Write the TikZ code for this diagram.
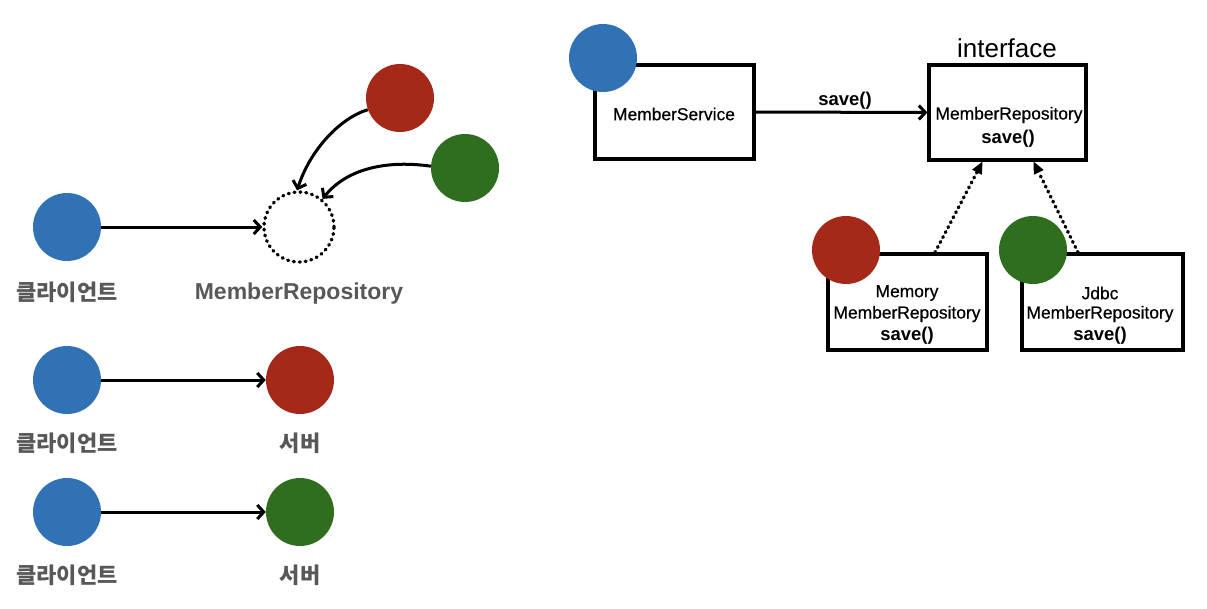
\documentclass[tikz,border=0pt]{standalone}
\usepackage{fontspec}
\setmainfont{Liberation Sans}
\newfontfamily\medsans{Liberation Sans}[FakeBold=0.6]
\newfontfamily\kr{Noto Sans CJK KR}
\usetikzlibrary{arrows.meta}
\definecolor{cblue}{HTML}{3172B4}
\definecolor{cred}{HTML}{A42919}
\definecolor{cgreen}{HTML}{2E6E1E}
\definecolor{lgray}{HTML}{585858}
\tikzset{
  ball/.style={circle, minimum size=68pt, inner sep=0pt, draw=none},
  ghost/.style={circle, minimum size=70pt, inner sep=0pt, draw=black, line width=3.4pt, dash pattern=on 0.9pt off 5pt, line cap=round},
  conn/.style={line width=3pt, -{Straight Barb[length=6.5pt,width=14pt]}},
  klabel/.style={font=\kr\bfseries\fontsize{22}{26}\selectfont, text=lgray, inner sep=0pt},
  box/.style={rectangle, draw=black, fill=white, line width=3.2pt, inner sep=0pt},
  btext/.style={font=\medsans\fontsize{17.4}{20}\selectfont, inner sep=0pt},
  bsave/.style={font=\bfseries\fontsize{18.5}{21}\selectfont, inner sep=0pt},
  impl/.style={line width=3.4pt, dash pattern=on 1pt off 4.6pt, line cap=round, -{Triangle[length=12pt,width=11pt,line cap=butt,line width=0pt]}}
}
\begin{document}
\begin{tikzpicture}[x=1pt,y=-1pt]
\useasboundingbox[fill=white] (0,0) rectangle (1207,608);
% ---------- left top ----------
\node[ball, fill=cblue] (c1) at (67,227) {};
\node[ghost] (repo) at (299,227) {};
\node[ball, fill=cred] (r1) at (400,98) {};
\node[ball, fill=cgreen] (g1) at (465,168) {};
\draw[conn] (c1) -- (repo);
\draw[conn] (r1.200) .. controls (340,118) and (310,150) .. (repo.93);
\draw[conn] (g1.177) .. controls (388,160) and (347,168) .. (repo.50);
\node[klabel] (l1) at (67,292) {클라이언트};
\node[font=\bfseries\fontsize{23}{27}\selectfont, text=lgray, inner sep=0pt] (l2) at (299,294) {MemberRepository};
% ---------- left middle ----------
\node[ball, fill=cblue] (c2) at (67,380) {};
\node[ball, fill=cred] (s2) at (300,380) {};
\draw[conn] (c2) -- (s2);
\node[klabel] (l3) at (67,443) {클라이언트};
\node[klabel] (l4) at (300,443) {서버};
% ---------- left bottom ----------
\node[ball, fill=cblue] (c3) at (67,512) {};
\node[ball, fill=cgreen] (s3) at (300,512) {};
\draw[conn] (c3) -- (s3);
\node[klabel] (l5) at (67,575) {클라이언트};
\node[klabel] (l6) at (300,575) {서버};
% ---------- right ----------
\node[box, minimum width=159pt, minimum height=94pt] (svc) at (674.5,112) {};
\node[box, minimum width=157pt, minimum height=95pt] (iface) at (1007.5,112.5) {};
\node[box, minimum width=159pt, minimum height=96pt] (mem) at (907.5,302) {};
\node[box, minimum width=161pt, minimum height=96pt] (jdbc) at (1102.5,302) {};
\node[ball, fill=cblue] (b4) at (603,58) {};
\node[ball, fill=cred] (r4) at (846,250) {};
\node[ball, fill=cgreen] (g4) at (1033,250) {};
\node[btext] (t1) at (674,114) {MemberService};
\node[font=\fontsize{26}{30}\selectfont, inner sep=0pt] (t2) at (1007,48) {interface};
\node[btext] (t3) at (1009,115) {MemberRepository};
\node[bsave] (t4) at (1008,139) {save()};
\node[btext] (t5) at (907,293) {Memory};
\node[btext] (t6) at (907,314) {MemberRepository};
\node[bsave] (t7) at (907,336) {save()};
\node[btext] (t8) at (1100,293) {Jdbc};
\node[btext] (t9) at (1100,314) {MemberRepository};
\node[bsave] (t10) at (1100,336) {save()};
\draw[conn] (svc.east) -- (iface.west);
\node[bsave] (t11) at (845,101) {save()};
\draw[impl] ([xshift=27.5pt]mem.north) -- ([xshift=-25pt]iface.south);
\draw[impl] ([xshift=-24.5pt]jdbc.north) -- ([xshift=26pt]iface.south);
\end{tikzpicture}
\end{document}
